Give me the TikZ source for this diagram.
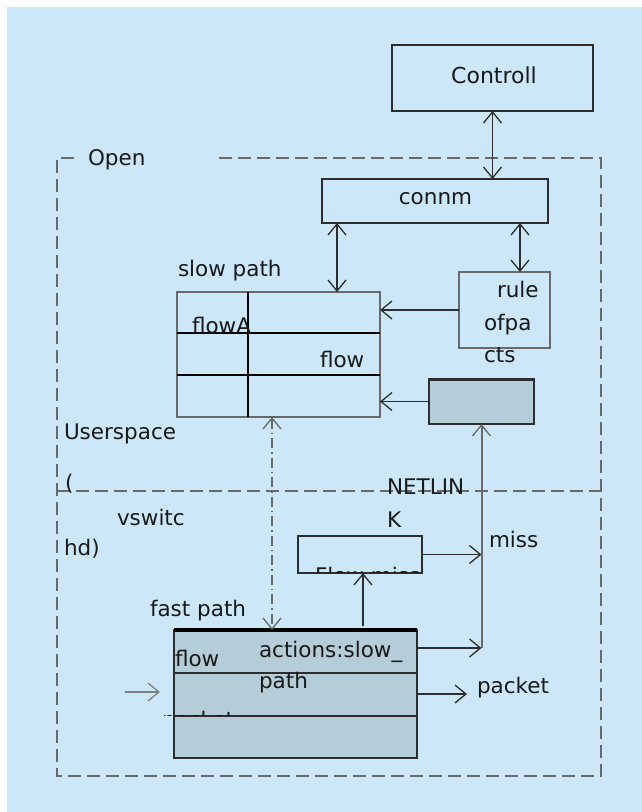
\documentclass[tikz,border=0pt]{standalone}
\usepackage{fontspec}
\setmainfont{DejaVu Sans}
\usetikzlibrary{arrows.meta,calc}
\definecolor{bgblue}{RGB}{204,232,248}
\definecolor{boxgray}{RGB}{181,205,217}
\definecolor{linedark}{RGB}{45,45,45}
\definecolor{dashgray}{RGB}{105,105,105}
\definecolor{txt}{RGB}{25,25,25}
\begin{document}
\begin{tikzpicture}[x=1pt,y=-1pt,
  lbl/.style={font=\fontsize{21.5}{24}\selectfont, inner sep=0pt, outer sep=0pt, anchor=base west, text=txt},
  plainbox/.style={draw=linedark, line width=2pt, inner sep=0pt, outer sep=0pt},
  tabline/.style={draw=black, line width=1.5pt},
  dashbox/.style={draw=dashgray, line width=2pt, dash pattern=on 13pt off 6pt},
  arr/.style={-{Straight Barb[length=11pt,width=18pt,line width=1.3pt]}, line width=1.3pt, draw=linedark},
  dbl/.style={{Straight Barb[length=11pt,width=18pt,line width=1.3pt]}-{Straight Barb[length=11pt,width=18pt,line width=1.3pt]}, line width=1.3pt, draw=linedark},
  dashdot/.style={dash pattern=on 10pt off 4pt on 1.5pt off 4pt, draw=dashgray}
]
\useasboundingbox (0,0) rectangle (642,812);
\fill[white] (0,0) rectangle (642,812);
\fill[bgblue] (7,7) rectangle (642,812);

% outer dashed frame and separator
\draw[dashbox] (74,158) -- (57,158) -- (57,776) -- (601,776) -- (601,158) -- (217,158);
\draw[dashbox] (57,491) -- (601,491);

% boxes
\node[plainbox, minimum width=201pt, minimum height=66pt] (ctrl) at (492.5,78) {};
\node[plainbox, minimum width=226pt, minimum height=44pt] (connm) at (435,201) {};
\node[draw=dashgray, line width=2.5pt, inner sep=0pt, outer sep=0pt, minimum width=203pt, minimum height=125pt] (slowtab) at (278.5,354.5) {};
\draw[tabline] ([yshift=-41pt]slowtab.north west) -- ([yshift=-41pt]slowtab.north east);
\draw[tabline] ([yshift=-83pt]slowtab.north west) -- ([yshift=-83pt]slowtab.north east);
\draw[tabline] ([xshift=71pt]slowtab.north west) -- ([xshift=71pt]slowtab.south west);
\node[plainbox, draw=dashgray, minimum width=91pt, minimum height=76pt] (rulebox) at (504.5,310) {};
\node[plainbox, fill=boxgray, minimum width=105pt, minimum height=45pt] (graybox) at (481.5,401.5) {};
\draw[linedark, line width=3pt] (graybox.north west) -- (graybox.north east);
\node[plainbox, minimum width=124pt, minimum height=37pt] (flowmiss) at (360,554.5) {};
\node[plainbox, fill=boxgray, minimum width=243pt, minimum height=128pt] (fasttab) at (295.5,694) {};
\draw[black, line width=3.5pt] (fasttab.north west) -- (fasttab.north east);
\draw[tabline, draw=linedark] ([yshift=-43pt]fasttab.north west) -- ([yshift=-43pt]fasttab.north east);
\draw[tabline, draw=linedark] ([yshift=-86pt]fasttab.north west) -- ([yshift=-86pt]fasttab.north east);

% clipped texts
\begin{scope}
  \clip ([xshift=2pt,yshift=-1pt]flowmiss.north west) rectangle ([yshift=1pt]flowmiss.south east);
  \node[lbl] (flowmisstxt) at (315,583.5) {Flow miss};
\end{scope}
\begin{scope}
  \clip (150,695) rectangle (250,715);
  \node[lbl] (packetin) at (162,727) {packet};
\end{scope}

% labels
\node[lbl, anchor=base, font=\fontsize{22}{24}\selectfont] (ctrltxt) at (494,83) {Controll};
\node[lbl, anchor=base] (connmtxt) at (435.5,204) {connm};
\node[lbl] (open) at (88,165) {Open};
\node[lbl] (slowpath) at (178,276) {slow path};
\node[lbl] (flowA) at (192,333) {flowA};
\node[lbl] (flow1) at (320,367) {flow};
\node[lbl] (rule) at (497,297) {rule};
\node[lbl] (ofpa) at (484,330) {ofpa};
\node[lbl] (cts) at (484,362) {cts};
\node[lbl] (users) at (64,439) {Userspace};
\node[lbl] (paren) at (65,490) {(};
\node[lbl] (netlin) at (387,494) {NETLIN};
\node[lbl] (kk) at (387,527) {K};
\node[lbl] (vswitc) at (117,525) {vswitc};
\node[lbl] (hd) at (64,555) {hd)};
\node[lbl] (miss) at (489,547) {miss};
\node[lbl] (fastpath) at (150,616) {fast path};
\node[lbl] (flow2) at (175,666) {flow};
\node[lbl] (actions) at (259,657) {actions:slow\_};
\node[lbl] (path) at (259,688) {path};
\node[lbl] (packet) at (477,693) {packet};

% connectors
\draw[dbl] (ctrl.south) -- (connm.north -| ctrl.south);
\draw[dbl] ($(connm.south west)+(15,0)$) coordinate (c1) -- (c1 |- slowtab.north);
\draw[dbl] ($(connm.south west)+(198,0)$) coordinate (c2) -- (c2 |- rulebox.north);
\draw[arr] (rulebox.west) -- (rulebox.west -| slowtab.east);
\draw[arr] (graybox.west) -- (graybox.west -| slowtab.east);
\draw[dbl, dashdot] ($(slowtab.south west)+(95,0)$) coordinate (c3) -- (c3 |- fasttab.north);
\coordinate (c4) at ($(flowmiss.south)+(3,0)$);
\draw[arr] ($(c4 |- fasttab.north)+(0,-4)$) -- (c4);
\draw[arr] (flowmiss.east) -- (flowmiss.east -| graybox.south);
\coordinate (c5) at ($(fasttab.north east)+(0,18)$);
\draw[arr] (c5) -- (c5 -| graybox.south);
\draw[arr, draw=dashgray, line width=2pt] (c5 -| graybox.south) -- (graybox.south);
\coordinate (inL) at (125,692);
\coordinate (inR) at (160,692);
\draw[arr, draw=gray] (inL) -- (inR);
\coordinate (pk) at (467,694);
\draw[arr, line width=2.5pt] (fasttab.east) -- (pk);
\end{tikzpicture}
\end{document}
